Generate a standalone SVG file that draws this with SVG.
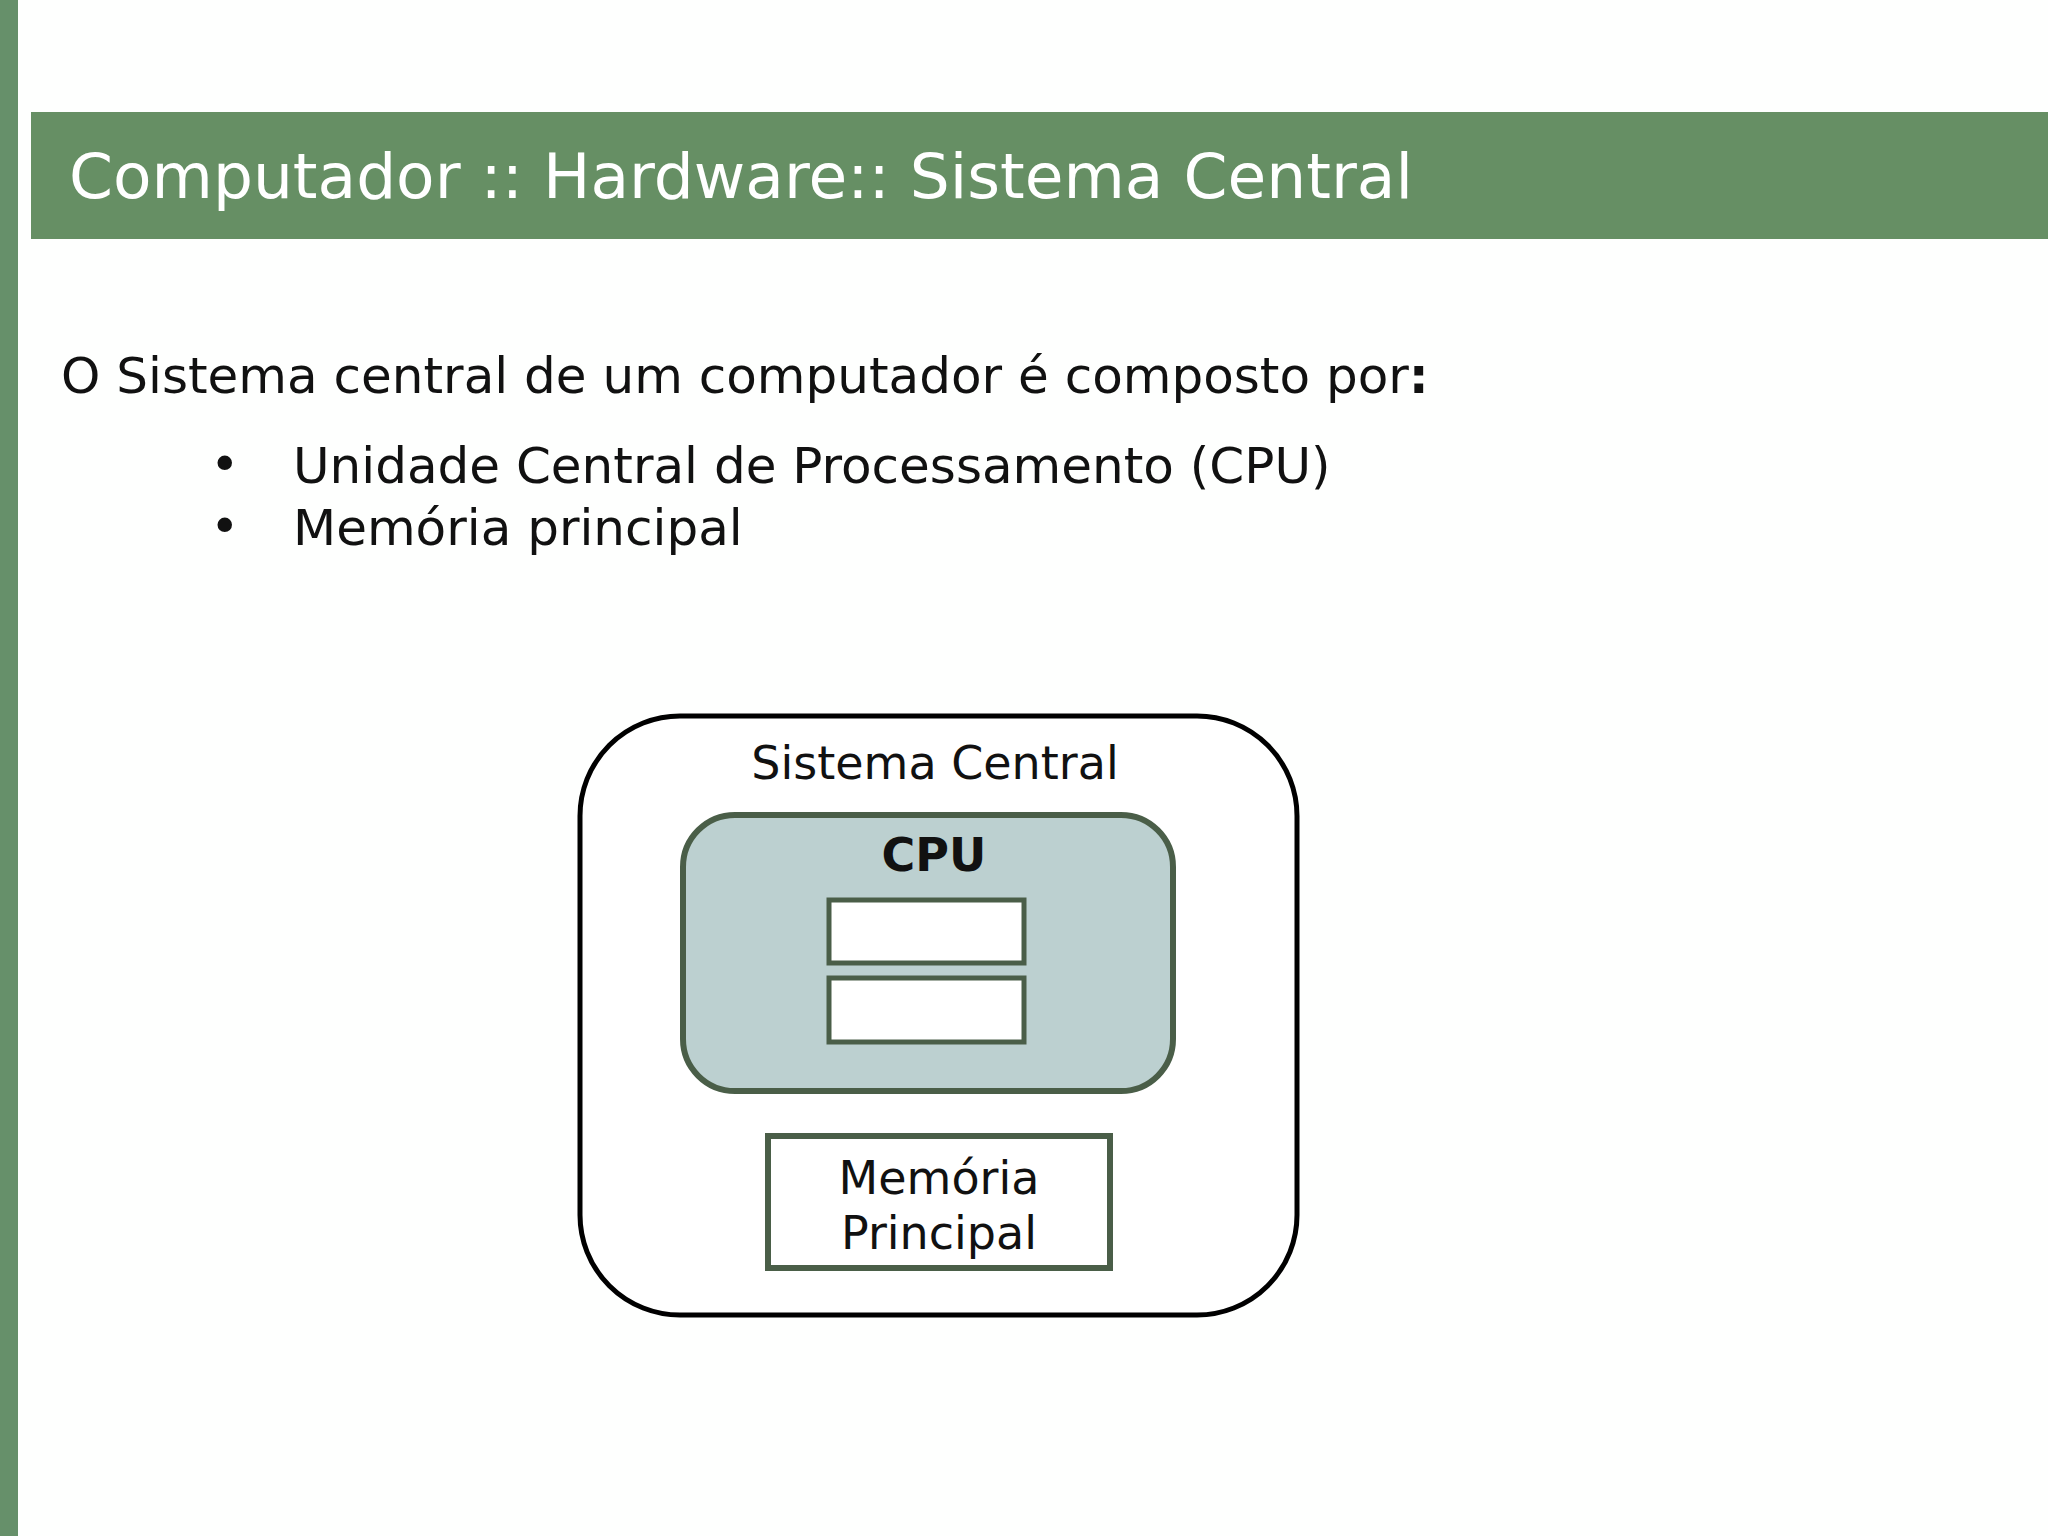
<svg xmlns="http://www.w3.org/2000/svg" width="2048" height="1536" viewBox="0 0 2048 1536">
<style>
text{font-family:"DejaVu Sans","Liberation Sans",sans-serif}
.body{font-size:50px;fill:#111}
.dia{font-size:46px;fill:#111;text-anchor:middle}
.inner{fill:#fff;stroke:#4a5e48;stroke-width:5}
</style>
<rect width="2048" height="1536" fill="#fefffe"/>
<rect x="0" y="0" width="18" height="1536" fill="#66906a"/>
<rect x="31" y="112" width="2017" height="127" fill="#668f64"/>
<text x="69" y="198" font-size="63" fill="#fff">Computador :: Hardware:: Sistema Central</text>
<text class="body" x="61" y="393">O Sistema central de um computador é composto por<tspan font-weight="bold">:</tspan></text>
<text class="body" x="210" y="481" fill="#444">•</text>
<text class="body" x="293" y="483">Unidade Central de Processamento (CPU)</text>
<text class="body" x="210" y="543" fill="#444">•</text>
<text class="body" x="293" y="545">Memória principal</text>
<g id="sistema-central">
<rect x="580" y="716" width="717" height="599" rx="100" fill="#fff" stroke="#000" stroke-width="5"/>
<text class="dia" x="935" y="779">Sistema Central</text>
</g>
<g id="cpu">
<rect x="683" y="815" width="490" height="276" rx="52" fill="#bcd0d0" stroke="#4a5e48" stroke-width="6"/>
<text class="dia" x="934" y="871" font-weight="bold">CPU</text>
<rect class="inner" x="829" y="900" width="195" height="63"/>
<rect class="inner" x="829" y="978" width="195" height="64"/>
</g>
<g id="memoria">
<rect x="768" y="1136" width="342" height="132" fill="#fff" stroke="#4a5e48" stroke-width="6"/>
<text class="dia" x="939" y="1194">Memória</text>
<text class="dia" x="939" y="1249">Principal</text>
</g>
<g id="connectors"/>
</svg>
